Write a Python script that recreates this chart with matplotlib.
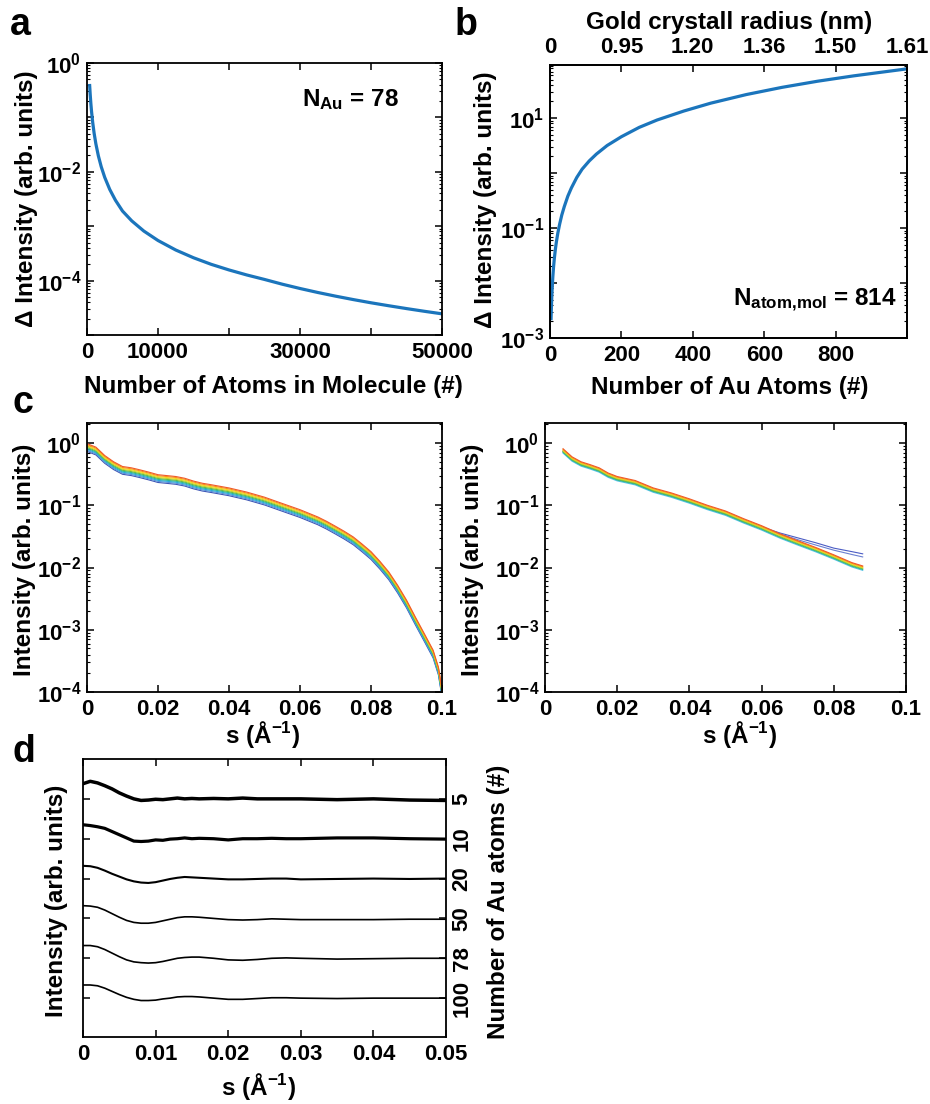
import numpy as np
import matplotlib
matplotlib.use("Agg")
import matplotlib.pyplot as plt
from matplotlib.ticker import FuncFormatter, LogLocator, NullFormatter

# ---------------- data ----------------
# panel a
a_atoms = [375, 450, 550, 650, 800, 1000, 1250, 1600, 2000, 2500, 3200, 4000, 5000,
           6300, 8000, 10000, 12500, 15000, 17500, 20000, 22500, 25000, 27500, 30000,
           32500, 35000, 37500, 40000, 42500, 45000, 47500, 50000]
a_dI = [0.385, 0.265, 0.1756, 0.1247, 0.0814, 0.0515, 0.0326, 0.01965, 0.01244,
        7.88e-3, 4.75e-3, 3.01e-3, 1.90e-3, 1.254e-3, 8.15e-4, 5.46e-4, 3.65e-4,
        2.63e-4, 1.99e-4, 1.57e-4, 1.27e-4, 1.05e-4, 8.59e-5, 7.16e-5, 6.05e-5,
        5.18e-5, 4.48e-5, 3.91e-5, 3.45e-5, 3.06e-5, 2.73e-5, 2.45e-5]
a_xticks = [0, 10000, 20000, 30000, 40000, 50000]
a_xlabels = ["0", "10000", "", "30000", "", "50000"]

# panel b
b_atoms = [3, 4, 5, 6, 8, 10, 12, 15, 18, 22, 27, 33, 40, 50, 60, 75, 90, 110, 130,
           160, 200, 250, 300, 375, 450, 550, 650, 750, 850, 1000]
b_dI = [2.25e-3, 3.78e-3, 5.65e-3, 7.83e-3, 0.01315, 0.01968, 0.0273, 0.0408, 0.0566,
        0.0811, 0.1175, 0.172, 0.245, 0.38, 0.537, 0.83, 1.175, 1.66, 2.21, 3.16,
        4.57, 6.76, 9.2, 13.4, 18.6, 26.7, 36.1, 46.7, 58.3, 78.3]
b_xticks = [0, 200, 400, 600, 800, 1000]
b_xlabels = ["0", "200", "400", "600", "800", ""]
b_top_labels = ["0", "0.95", "1.20", "1.36", "1.50", "1.61"]

# panel c left
cL_s = [0, 0.0025, 0.005, 0.0075, 0.01, 0.0125, 0.015, 0.0175, 0.02, 0.0225, 0.025,
        0.0275, 0.03, 0.0325, 0.035, 0.04, 0.045, 0.05, 0.055, 0.06, 0.065, 0.0675,
        0.07, 0.0725, 0.075, 0.0775, 0.08, 0.0825, 0.085, 0.0875, 0.09, 0.0925,
        0.095, 0.0975, 0.099, 0.1]
cL_top = [0.98, 0.86, 0.63, 0.5, 0.42, 0.40, 0.37, 0.34, 0.31, 0.30, 0.29, 0.272,
          0.245, 0.226, 0.214, 0.19, 0.163, 0.135, 0.107, 0.085, 0.065, 0.0552, 0.046,
          0.0381, 0.031, 0.0238, 0.018, 0.0126, 8.5e-3, 5.2e-3, 3.0e-3, 1.6e-3,
          8.7e-4, 4.7e-4, 2.5e-4, 1.1e-4]
cL_factors = [1.0, 0.965, 0.93, 0.9, 0.87, 0.84, 0.81, 0.78, 0.75]
cL_colors = ['#f05a28', '#f7941d', '#f9d71c', '#b5d334', '#5dbb46', '#2bb6a0',
             '#29a9e0', '#5b8fd6', '#3d55b5']

# panel c right
cR_s = [0.005, 0.0075, 0.01, 0.0125, 0.015, 0.0175, 0.02, 0.025, 0.03, 0.035, 0.04,
        0.045, 0.05, 0.055, 0.06, 0.065, 0.07, 0.075, 0.08, 0.085, 0.088]
cR_top = [0.81, 0.60, 0.50, 0.45, 0.40, 0.33, 0.29, 0.25, 0.19, 0.158, 0.127, 0.10,
          0.081, 0.061, 0.047, 0.035, 0.027, 0.021, 0.016, 0.012, 0.0106]
cR_factors = [1.0, 0.975, 0.95, 0.925, 0.9, 0.875, 0.85]
cR_colors = ['#f05a28', '#f7941d', '#f9d71c', '#b5d334', '#5dbb46', '#2bb6a0', '#5bc5ea']
cR_blue_factors = [0.92, 0.89]
cR_tail_s = [0.06, 0.065, 0.07, 0.075, 0.08, 0.085, 0.088]
cR_blue1_tail = [0.045, 0.036, 0.030, 0.025, 0.0205, 0.018, 0.0166]
cR_blue2_tail = [0.044, 0.035, 0.028, 0.0230, 0.019, 0.0162, 0.0148]
cR_blue_colors = ['#4b5cc4', '#6a7fd0']
c_xticks = [0, 0.02, 0.04, 0.06, 0.08, 0.1]
c_xlabels = ["0", "0.02", "0.04", "0.06", "0.08", "0.1"]

# panel d
d_s = [0, 0.001, 0.002, 0.003, 0.004, 0.005, 0.006, 0.007, 0.008, 0.009, 0.010,
       0.011, 0.012, 0.013, 0.014, 0.015, 0.016, 0.018, 0.020, 0.022, 0.024, 0.026,
       0.028, 0.030, 0.035, 0.040, 0.045, 0.050]
d_nAu = ["5", "10", "20", "50", "78", "100"]
d_offsets = [6, 5, 4, 3, 2, 1]
d_traces = [
    [0.38, 0.44, 0.40, 0.33, 0.25, 0.15, 0.07, 0.0, -0.04, -0.03, -0.01, -0.02, 0.0,
     0.02, 0.0, 0.01, 0.0, 0.01, 0.0, 0.02, 0.0, 0.0, 0.0, 0.0, -0.02, 0.0, -0.03, -0.04],
    [0.35, 0.33, 0.30, 0.26, 0.18, 0.10, 0.02, -0.06, -0.07, -0.06, -0.03, -0.04, -0.01,
     0.0, 0.02, 0.0, 0.01, 0.0, -0.03, 0.0, 0.0, 0.01, 0.0, 0.0, 0.02, 0.02, 0.0, -0.01],
    [0.32, 0.31, 0.27, 0.20, 0.12, 0.05, -0.02, -0.07, -0.10, -0.11, -0.09, -0.05, -0.01,
     0.02, 0.04, 0.03, 0.02, 0.0, -0.02, -0.02, -0.01, 0.0, 0.0, -0.02, -0.01, 0.0, -0.01, 0.0],
    [0.32, 0.31, 0.28, 0.21, 0.12, 0.03, -0.05, -0.10, -0.12, -0.12, -0.10, -0.06, -0.02,
     0.02, 0.04, 0.04, 0.03, 0.0, -0.03, -0.04, -0.03, -0.01, -0.02, -0.03, -0.03, -0.03, -0.02, -0.02],
    [0.32, 0.32, 0.29, 0.22, 0.13, 0.04, -0.04, -0.09, -0.11, -0.12, -0.11, -0.08, -0.04,
     0.0, 0.02, 0.03, 0.03, 0.0, -0.04, -0.05, -0.03, 0.0, 0.01, 0.0, -0.02, -0.01, 0.0, 0.0],
    [0.33, 0.33, 0.31, 0.25, 0.17, 0.09, 0.02, -0.03, -0.06, -0.06, -0.05, -0.02, 0.0,
     0.03, 0.04, 0.04, 0.03, 0.0, -0.03, -0.03, -0.01, 0.01, 0.01, 0.0, -0.01, 0.0, 0.0, 0.0],
]
d_linewidths = [2.5, 2.3, 1.5, 1.2, 1.2, 1.2]
d_xticks = [0, 0.01, 0.02, 0.03, 0.04, 0.05]
d_xlabels = ["0", "0.01", "0.02", "0.03", "0.04", "0.05"]

# ---------------- style ----------------
plt.rcParams.update({
    'font.family': ['Liberation Sans', 'DejaVu Sans'],
    'font.weight': 'bold',
    'axes.labelweight': 'bold',
    'mathtext.fontset': 'custom',
    'mathtext.rm': 'Liberation Sans:bold',
    'mathtext.bf': 'Liberation Sans:bold',
    'mathtext.it': 'Liberation Sans:bold',
    'mathtext.sf': 'Liberation Sans:bold',
    'mathtext.default': 'bf',
    'axes.linewidth': 1.3,
    'xtick.direction': 'in', 'ytick.direction': 'in',
    'xtick.major.size': 5, 'ytick.major.size': 5,
    'xtick.minor.size': 2.5, 'ytick.minor.size': 2.5,
    'xtick.major.width': 1.1, 'ytick.major.width': 1.1,
    'xtick.minor.width': 0.8, 'ytick.minor.width': 0.8,
    'xtick.labelsize': 16, 'ytick.labelsize': 16,
    'xtick.major.pad': 5, 'ytick.major.pad': 4,
})

W, H = 930, 1104
fig = plt.figure(figsize=(W / 100, H / 100), dpi=100)


def px_ax(l, t, r, b):
    return fig.add_axes([l / W, 1 - b / H, (r - l) / W, (b - t) / H])


def ftext(x, y, s, **kw):
    fig.text(x / W, 1 - y / H, s, **kw)


def log_fmt(labeled):
    def f(v, p):
        if v <= 0:
            return ''
        e = np.log10(v)
        r = int(round(e))
        if abs(e - r) < 1e-6 and r in labeled:
            return r'$10^{%d}$' % r
        return ''
    return FuncFormatter(f)


def style_log(ax, labeled):
    ax.set_yscale('log')
    ax.yaxis.set_major_locator(LogLocator(base=10, numticks=30))
    ax.yaxis.set_minor_locator(LogLocator(base=10, subs=np.arange(2, 10), numticks=30))
    ax.yaxis.set_major_formatter(log_fmt(labeled))
    ax.yaxis.set_minor_formatter(NullFormatter())
    ax.tick_params(which='both', left=True, right=True, top=True, bottom=True)


LS = 17.5
BLUE = '#1b75bc'

# ---------------- panel a ----------------
ax = px_ax(87, 63, 442, 335)
ax.plot(a_atoms, a_dI, color=BLUE, lw=2.3)
style_log(ax, [0, -2, -4])
ax.set_xlim(0, 50000)
ax.set_ylim(1e-5, 1)
ax.set_xticks(a_xticks)
ax.set_xticklabels(a_xlabels)
ftext(302, 106, r"N$_{Au}$ = 78", fontsize=LS, ha='left', va='baseline')
ftext(27, 199, "\u0394 Intensity (arb. units)", fontsize=LS, rotation=90, ha='center', va='center')
ftext(273, 386, "Number of Atoms in Molecule (#)", fontsize=LS, ha='center', va='center')

# ---------------- panel b ----------------
ax = px_ax(550, 65, 907, 338)
ax.plot(b_atoms, b_dI, color=BLUE, lw=2.3)
style_log(ax, [-3, -1, 1])
ax.set_xlim(0, 1000)
ax.set_ylim(1e-3, 92)
ax.set_xticks(b_xticks)
ax.set_xticklabels(b_xlabels)
axt = ax.twiny()
axt.set_xlim(0, 1000)
axt.set_xticks(b_xticks)
axt.set_xticklabels(b_top_labels)
axt.tick_params(direction='in', labelsize=16)
ftext(733, 306, r"N$_{atom{,}mol}$ = 814", fontsize=LS, ha='left', va='baseline')
ftext(485, 200, "\u0394 Intensity (arb. units)", fontsize=LS, rotation=90, ha='center', va='center')
ftext(730, 387, "Number of Au Atoms (#)", fontsize=LS, ha='center', va='center')
ftext(729, 22, "Gold crystall radius (nm)", fontsize=LS, ha='center', va='center')

# ---------------- panel c left ----------------
ax = px_ax(87, 423, 442, 692)
for f, c in zip(cL_factors[::-1], cL_colors[::-1]):
    ax.plot(cL_s, [v * f for v in cL_top], color=c, lw=0.8)
style_log(ax, [0, -1, -2, -3, -4])
ax.set_xlim(0, 0.1)
ax.set_ylim(1e-4, 2.1)
ax.set_xticks(c_xticks)
ax.set_xticklabels(c_xlabels)
ftext(25, 560, "Intensity (arb. units)", fontsize=LS, rotation=90, ha='center', va='center')
ftext(262, 735, "s (\u00c5$^{-1}$)", fontsize=LS, ha='center', va='center')

# ---------------- panel c right ----------------
ax = px_ax(545, 423, 906, 692)
n_early = len(cR_s) - len(cR_tail_s)
for f, tail, c in zip(cR_blue_factors, [cR_blue1_tail, cR_blue2_tail], cR_blue_colors):
    ys = [v * f for v in cR_top[:n_early]] + list(tail)
    ax.plot(cR_s, ys, color=c, lw=0.8)
for f, c in zip(cR_factors[::-1], cR_colors[::-1]):
    ax.plot(cR_s, [v * f for v in cR_top], color=c, lw=0.8)
style_log(ax, [0, -1, -2, -3, -4])
ax.set_xlim(0, 0.1)
ax.set_ylim(1e-4, 2.1)
ax.set_xticks(c_xticks)
ax.set_xticklabels(c_xlabels)
ftext(472, 560, "Intensity (arb. units)", fontsize=LS, rotation=90, ha='center', va='center')
ftext(739, 735, "s (\u00c5$^{-1}$)", fontsize=LS, ha='center', va='center')

# ---------------- panel d ----------------
ax = px_ax(83, 759, 446, 1037)
for tr, off, lw in zip(d_traces, d_offsets, d_linewidths):
    ax.plot(d_s, [v + off for v in tr], color='black', lw=lw)
ax.set_xlim(0, 0.05)
ax.set_ylim(0.025, 7.0)
ax.set_xticks(d_xticks)
ax.set_xticklabels(d_xlabels)
ax.set_yticks(d_offsets)
ax.set_yticklabels(d_nAu)
ax.tick_params(which='both', left=True, right=True, top=True, bottom=True,
               labelleft=False, labelright=True)
for lab in ax.get_yticklabels():
    lab.set_rotation(90)
    lab.set_va('center')
ftext(57, 901, "Intensity (arb. units)", fontsize=LS, rotation=90, ha='center', va='center')
ftext(499, 902, "Number of Au atoms (#)", fontsize=LS, rotation=90, ha='center', va='center')
ftext(258, 1086, "s (\u00c5$^{-1}$)", fontsize=LS, ha='center', va='center')

# ---------------- panel letters ----------------
for x, y, s in [(10, 35, 'a'), (455, 35, 'b'), (12, 413, 'c'), (12, 762, 'd')]:
    ftext(x, y, s, fontsize=27, ha='left', va='baseline')

fig.savefig('out.png', dpi=100)
